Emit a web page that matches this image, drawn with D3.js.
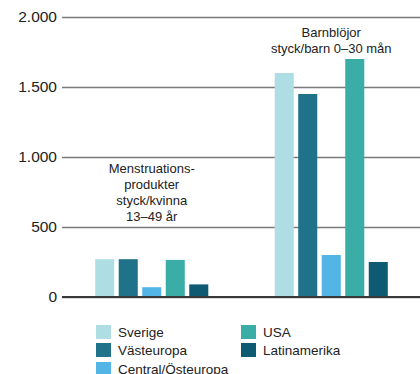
<!DOCTYPE html>
<html>
<head>
<meta charset="utf-8">
<script src="https://cdn.jsdelivr.net/npm/d3@7"></script>
<style>
  html, body { margin: 0; padding: 0; background: #fff; }
  svg { display: block; font-family: "Liberation Sans", Arial, sans-serif; }
</style>
</head>
<body>
<svg id="chart" width="420" height="374"></svg>
<script>
// Product groups and their captions
const groups = ["Menstruationsprodukter", "Barnblöjor"];
const groupCaptions = [
  ["Menstruations-", "produkter", "styck/kvinna", "13–49 år"],
  ["Barnblöjor", "styck/barn 0–30 mån"]
];

// Regions (one bar per region in each group)
const regions = ["Sverige", "Västeuropa", "Central/Östeuropa", "USA", "Latinamerika"];
const regionColors = ["#aedde3", "#1f7289", "#52b5e5", "#3aaea6", "#0d5a72"];

// Units used per person, by region
const menstrualValues = [270, 270, 70, 265, 90];
const diaperValues = [1600, 1450, 300, 1700, 250];

// Axis ticks
const yTicks = [0, 500, 1000, 1500, 2000];
const yTickLabels = ["0", "500", "1.000", "1.500", "2.000"];

const svg = d3.select("#chart");
const margin = { top: 17, right: 0, bottom: 77, left: 62 };
const width = 420, height = 374;

const y = d3.scaleLinear()
  .domain([0, 2000])
  .range([height - margin.bottom, margin.top]);

const x0 = d3.scaleBand()
  .domain(groups)
  .range([margin.left, width - margin.right + 1])
  .paddingInner(0.37)
  .paddingOuter(0.185);

const x1 = d3.scaleBand()
  .domain(regions)
  .range([0, x0.bandwidth()])
  .paddingInner(0.19);

const color = d3.scaleOrdinal().domain(regions).range(regionColors);

// Gridlines with tick labels
const yAxis = d3.axisLeft(y)
  .tickValues(yTicks)
  .tickSize(-(width - margin.left))
  .tickPadding(5)
  .tickFormat((d, i) => yTickLabels[i]);

const gAxis = svg.append("g")
  .attr("transform", `translate(${margin.left},0)`)
  .call(yAxis);
gAxis.select(".domain").remove();
gAxis.selectAll(".tick line")
  .attr("stroke", "#7a7a7a")
  .attr("stroke-width", 1.5);
gAxis.selectAll(".tick text")
  .attr("fill", "#222")
  .attr("font-size", 15.5)
  .attr("x", -5);

// Bars
const seriesByGroup = [menstrualValues, diaperValues];
const gGroups = svg.append("g").selectAll("g")
  .data(groups)
  .join("g")
  .attr("transform", d => `translate(${x0(d)},0)`);

gGroups.selectAll("rect")
  .data((g, gi) => regions.map((r, i) => ({ region: r, value: seriesByGroup[gi][i] })))
  .join("rect")
  .attr("x", d => x1(d.region))
  .attr("width", x1.bandwidth())
  .attr("y", d => y(d.value))
  .attr("height", d => y(0) - y(d.value))
  .attr("fill", d => color(d.region));

// Baseline
svg.append("line")
  .attr("x1", margin.left)
  .attr("x2", width)
  .attr("y1", y(0))
  .attr("y2", y(0))
  .attr("stroke", "#383838")
  .attr("stroke-width", 2);

// Group captions
const captionTop = [173, 37];
groups.forEach((g, gi) => {
  const cx = x0(g) + x0.bandwidth() / 2;
  const t = svg.append("text")
    .attr("text-anchor", "middle")
    .attr("font-size", 13)
    .attr("fill", "#222");
  groupCaptions[gi].forEach((line, li) => {
    t.append("tspan")
      .attr("x", cx)
      .attr("y", captionTop[gi] + li * 16)
      .text(line);
  });
});

// Legend
const legendPos = [
  [96, 325], [96, 343], [96, 362], [241, 325], [241, 343]
];
const legend = svg.append("g").selectAll("g")
  .data(regions)
  .join("g")
  .attr("transform", (d, i) => `translate(${legendPos[i][0]},${legendPos[i][1]})`);
legend.append("rect")
  .attr("width", 15)
  .attr("height", 14)
  .attr("fill", d => color(d));
legend.append("text")
  .attr("x", 22)
  .attr("y", 12)
  .attr("font-size", 13.5)
  .attr("fill", "#222")
  .text(d => d);
</script>
</body>
</html>
